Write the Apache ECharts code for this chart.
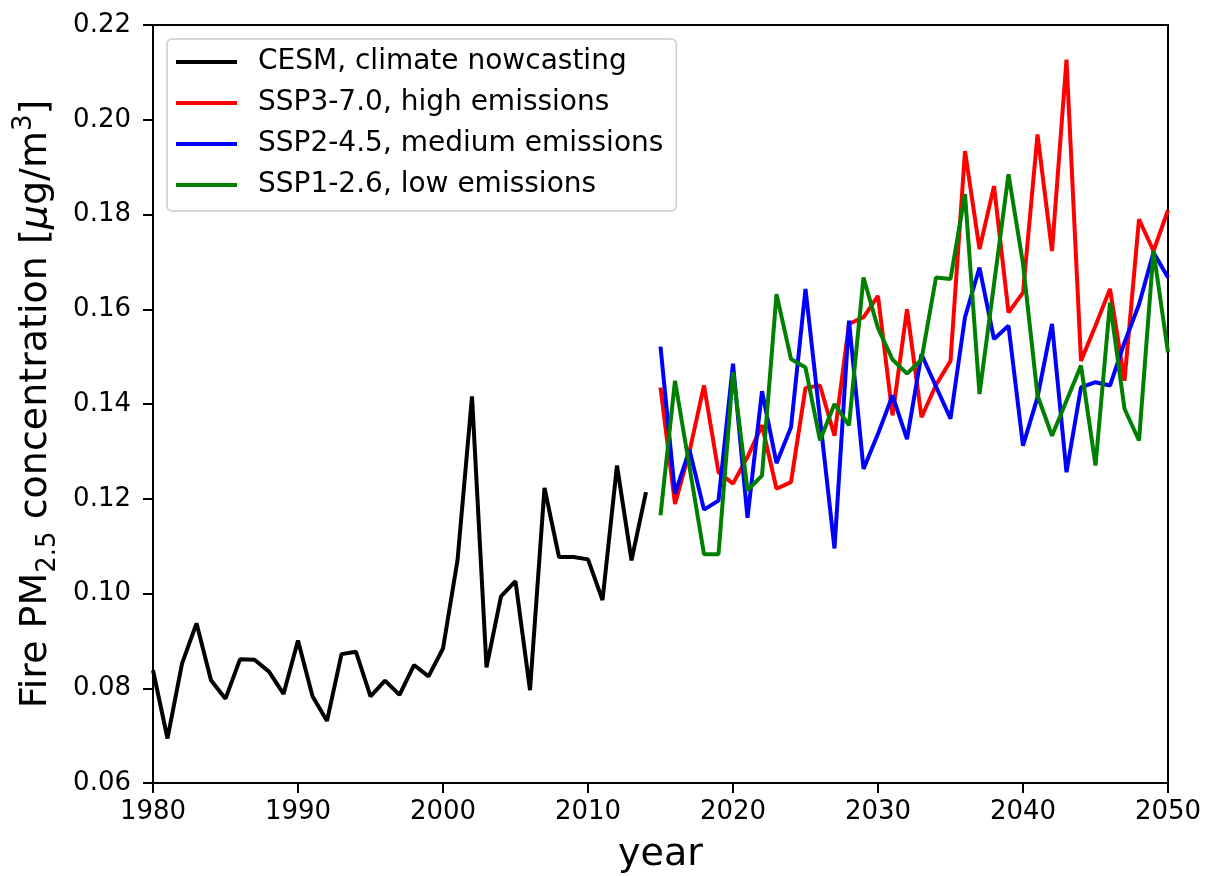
<!DOCTYPE html>
<html>
<head>
<meta charset="utf-8">
<script src="https://cdn.jsdelivr.net/npm/echarts@6/dist/echarts.min.js"></script>
<style>
html,body{margin:0;padding:0;background:#fff;}
#chart{width:1205px;height:876px;}
</style>
</head>
<body>
<div id="chart"></div>
<script>
const histYears = [1980,1981,1982,1983,1984,1985,1986,1987,1988,1989,1990,1991,1992,1993,1994,1995,1996,1997,1998,1999,2000,2001,2002,2003,2004,2005,2006,2007,2008,2009,2010,2011,2012,2013,2014];
const cesm = [0.0838,0.0694,0.0852,0.0937,0.0817,0.0778,0.0861,0.0860,0.0835,0.0788,0.0901,0.0783,0.0731,0.0872,0.0877,0.0783,0.0816,0.0786,0.0849,0.0825,0.0884,0.1070,0.1416,0.0844,0.0994,0.1026,0.0796,0.1223,0.1077,0.1077,0.1072,0.0986,0.1270,0.1070,0.1214];
const projYears = [2015,2016,2017,2018,2019,2020,2021,2022,2023,2024,2025,2026,2027,2028,2029,2030,2031,2032,2033,2034,2035,2036,2037,2038,2039,2040,2041,2042,2043,2044,2045,2046,2047,2048,2049,2050];
const ssp370 = [0.1435,0.1189,0.1300,0.1439,0.1256,0.1232,0.1288,0.1355,0.1221,0.1235,0.1434,0.1439,0.1333,0.1569,0.1583,0.1628,0.1376,0.1600,0.1372,0.1440,0.1491,0.1934,0.1727,0.1860,0.1593,0.1635,0.1969,0.1723,0.2127,0.1491,0.1565,0.1643,0.1449,0.1790,0.1723,0.1809];
const ssp245 = [0.1521,0.1211,0.1303,0.1177,0.1196,0.1485,0.1160,0.1427,0.1275,0.1351,0.1643,0.1369,0.1095,0.1576,0.1263,0.1337,0.1418,0.1326,0.1505,0.1437,0.1369,0.1583,0.1688,0.1537,0.1565,0.1312,0.1414,0.1569,0.1256,0.1435,0.1446,0.1439,0.1530,0.1610,0.1720,0.1667];
const ssp126 = [0.1165,0.1449,0.1267,0.1083,0.1083,0.1467,0.1218,0.1249,0.1632,0.1495,0.1477,0.1323,0.1400,0.1355,0.1667,0.1560,0.1494,0.1464,0.1494,0.1667,0.1664,0.1843,0.1421,0.1653,0.1885,0.1696,0.1418,0.1333,0.1407,0.1481,0.1270,0.1614,0.1390,0.1323,0.1723,0.1509];
const seriesNames = ['CESM, climate nowcasting','SSP3-7.0, high emissions','SSP2-4.5, medium emissions','SSP1-2.6, low emissions'];
const seriesColors = ['#000000','#ff0000','#0000ff','#008000'];
const xTicks = {min:1980, max:2050, interval:10};
const yTicks = {min:0.06, max:0.22, interval:0.02};

const pairs = (xs, ys) => xs.map((x, i) => [x, ys[i]]);
const FONT = 'DejaVu Sans';
const chart = echarts.init(document.getElementById('chart'), null, {renderer:'canvas'});

const mk = (name, color, data) => ({
  name, type:'line', data, symbol:'none', showSymbol:false,
  lineStyle:{color, width:4}, itemStyle:{color}, z:3
});

chart.setOption({
  animation:false,
  backgroundColor:'#ffffff',
  grid:{left:153, right:37, top:25, bottom:93, outerBoundsMode:'none', containLabel:false, show:true, borderColor:'#000', borderWidth:2, backgroundColor:'transparent'},
  legend:{
    data:seriesNames,
    orient:'vertical',
    left:167, top:39,
    padding:[9,13,12,9],
    itemGap:13,
    itemWidth:61, itemHeight:4,
    icon:'rect',
    backgroundColor:'rgba(255,255,255,0.85)',
    borderColor:'#cccccc', borderWidth:1.5, borderRadius:5,
    textStyle:{fontFamily:FONT, fontSize:28, color:'#000', lineHeight:28, padding:[0,0,0,16]}
  },
  xAxis:{
    type:'value', min:xTicks.min, max:xTicks.max, interval:xTicks.interval,
    name:'year', nameLocation:'middle', nameGap:53,
    nameTextStyle:{fontFamily:FONT, fontSize:38, color:'#000'},
    axisLine:{show:true, lineStyle:{color:'#000', width:2}},
    axisTick:{show:true, length:10, lineStyle:{color:'#000', width:2}},
    axisLabel:{fontFamily:FONT, fontSize:26, color:'#000', margin:16, formatter:v=>String(v)},
    splitLine:{show:false}
  },
  yAxis:{
    type:'value', min:yTicks.min, max:yTicks.max, interval:yTicks.interval,
    name:'{n|Fire PM}{s|2.5}{n| concentration [}{m|μ}{n|g/m}{p|3}{n|]}',
    nameLocation:'middle', nameGap:92,
    nameTextStyle:{
      fontFamily:FONT, fontSize:38, color:'#000',
      rich:{
        n:{fontFamily:FONT, fontSize:38, lineHeight:50, color:'#000'},
        m:{fontFamily:FONT, fontSize:38, lineHeight:50, fontStyle:'italic', color:'#000'},
        s:{fontFamily:FONT, fontSize:26, lineHeight:26, verticalAlign:'bottom', color:'#000'},
        p:{fontFamily:FONT, fontSize:26, lineHeight:26, verticalAlign:'top', color:'#000'}
      }
    },
    axisLine:{show:true, lineStyle:{color:'#000', width:2}},
    axisTick:{show:true, length:10, lineStyle:{color:'#000', width:2}},
    axisLabel:{fontFamily:FONT, fontSize:26, color:'#000', margin:22, formatter:v=>v.toFixed(2)},
    splitLine:{show:false}
  },
  series:[
    mk(seriesNames[0], seriesColors[0], pairs(histYears, cesm)),
    mk(seriesNames[1], seriesColors[1], pairs(projYears, ssp370)),
    mk(seriesNames[2], seriesColors[2], pairs(projYears, ssp245)),
    mk(seriesNames[3], seriesColors[3], pairs(projYears, ssp126))
  ]
});
</script>
</body>
</html>
